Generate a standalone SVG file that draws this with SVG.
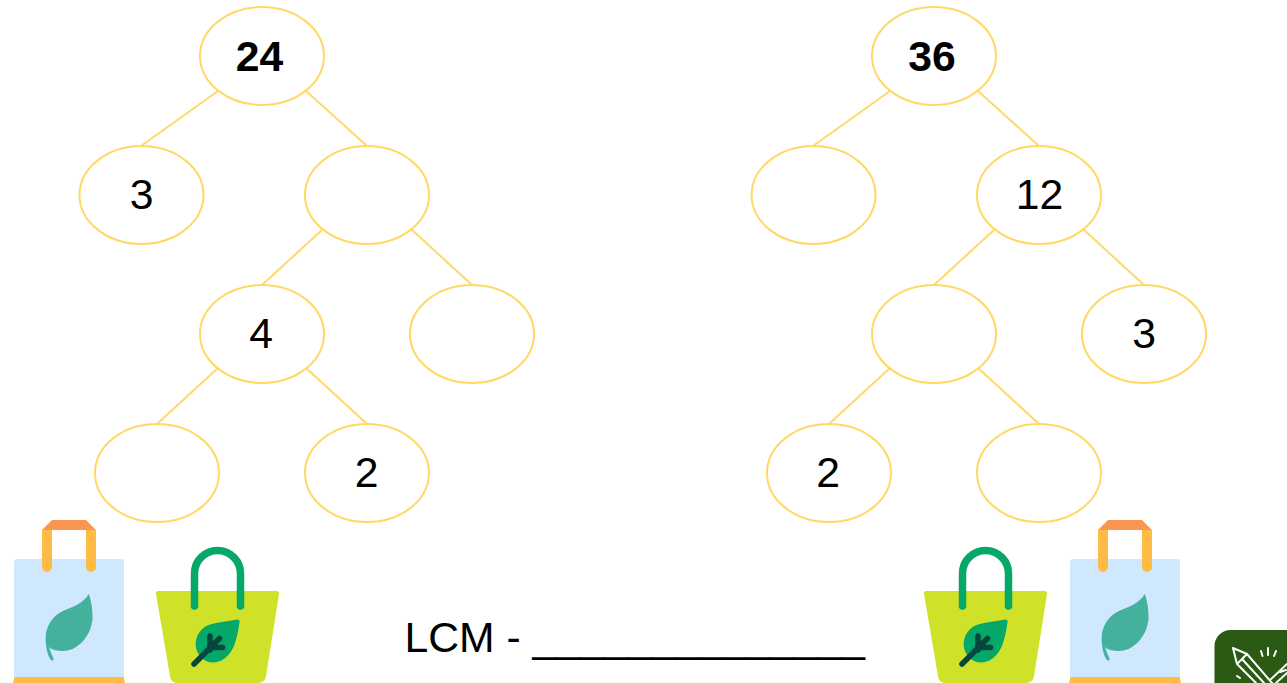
<svg xmlns="http://www.w3.org/2000/svg" xmlns:xlink="http://www.w3.org/1999/xlink" width="1287" height="683" viewBox="0 0 1287 683">
<style>
.n{fill:#fff;stroke:#ffd966;stroke-width:2}
.c{fill:none;stroke:#ffd966;stroke-width:2}
text{font-family:"Liberation Sans",Arial,sans-serif;font-size:42.7px;fill:#000}
.m{text-anchor:middle}
.b{font-weight:700}
.p{fill:none;stroke:#fff;stroke-width:2;stroke-linecap:round;stroke-linejoin:round}
</style>
<defs>
<g id="bagBlue">
<rect x="14" y="559" width="110" height="124" rx="3" fill="#cfe8fd"/>
<path d="M42 530L52 520H86L96 530Z" fill="#fb9650"/>
<path d="M42 530H52V567a5 5 0 0 1-10 0ZM86 530H96V567a5 5 0 0 1-10 0Z" fill="#ffbb46"/>
<path d="M13 683L14.500 677H123.500L125 683Z" fill="#ffbb46"/>
<path d="M88.700 594C90 596 93 608 92.500 619C91 636 78 651 63 651C58 651 52 650 49 647C50 651 52 655 53.500 658.500C54 661 51.500 661 50.500 659.500C47 654 45.500 645 45.700 637C46 625 54 615 63 611C72 607 83 604 88.700 594Z" fill="#44b19c"/>
</g>
<g id="bagGreen">
<path d="M158 591H277Q279.500 591 279 594L266 676Q265 683 258 683H177Q171 683 170 676L156 594Q155.500 591 158 591Z" fill="#cfe128"/>
<path d="M194.500 606V573.500a23 23 0 0 1 46 0V606" fill="none" stroke="#05a868" stroke-width="7.500" stroke-linecap="round"/>
<path d="M237 619.500Q240 619 239.500 622.500C238 632 236 642 233 648C228 658 220 663 212 662.500C203 662 196 654 195.700 645C195.500 636 201 627 210 624.500C218 622.500 228 621 237 619.500Z" fill="#05a868"/>
<path d="M194 664L219.500 638.500M210 636V650M222.500 647.500H211" fill="none" stroke="#04473f" stroke-width="5.500" stroke-linecap="round"/>
</g>
</defs>
<g id="connectors">
<path class="c" d="M218 91L141 146M306 91L367 146M323 229L262 285M411 229L472 285M218 368L157 424M306 368L367 424"/>
<path class="c" d="M890 91L813 146M978 91L1039 146M995 229L934 285M1083 229L1144 285M890 368L829 424M978 368L1039 424"/>
</g>
<g id="n24"><ellipse class="n" cx="262" cy="56" rx="62" ry="49"/><text class="m b" x="259.500" y="71">24</text></g>
<g id="n3a"><ellipse class="n" cx="141.500" cy="195" rx="62" ry="49"/><text class="m" x="141.500" y="209">3</text></g>
<g id="n6"><ellipse class="n" cx="367" cy="195" rx="62" ry="49"/></g>
<g id="n4"><ellipse class="n" cx="262" cy="334" rx="62" ry="49"/><text class="m" x="261" y="348">4</text></g>
<g id="n6b"><ellipse class="n" cx="472" cy="334" rx="62" ry="49"/></g>
<g id="n2blank"><ellipse class="n" cx="157" cy="473" rx="62" ry="49"/></g>
<g id="n2a"><ellipse class="n" cx="367" cy="473" rx="62" ry="49"/><text class="m" x="366.500" y="487">2</text></g>
<g id="n36"><ellipse class="n" cx="934" cy="56" rx="62" ry="49"/><text class="m b" x="932" y="71">36</text></g>
<g id="n3blank"><ellipse class="n" cx="813.500" cy="195" rx="62" ry="49"/></g>
<g id="n12"><ellipse class="n" cx="1039" cy="195" rx="62" ry="49"/><text class="m" x="1039.500" y="209">12</text></g>
<g id="n4b"><ellipse class="n" cx="934" cy="334" rx="62" ry="49"/></g>
<g id="n3b"><ellipse class="n" cx="1144" cy="334" rx="62" ry="49"/><text class="m" x="1144" y="348">3</text></g>
<g id="n2b"><ellipse class="n" cx="829" cy="473" rx="62" ry="49"/><text class="m" x="828" y="487">2</text></g>
<g id="n2c"><ellipse class="n" cx="1039" cy="473" rx="62" ry="49"/></g>
<use xlink:href="#bagBlue" href="#bagBlue"/>
<use xlink:href="#bagGreen" href="#bagGreen"/>
<use xlink:href="#bagGreen" href="#bagGreen" transform="translate(768 0)"/>
<use xlink:href="#bagBlue" href="#bagBlue" transform="translate(1056 0)"/>
<text id="lcm" x="404.500" y="652">LCM - ______________</text>
<g id="badge">
<rect x="1214.500" y="630" width="90" height="90" rx="16" fill="#2a5a13"/>
<path class="p" d="M1233 648L1247 654L1237 664ZM1247 654L1272 683M1237 664L1256 683M1242 659L1264 683M1268 648V655M1261 651L1262.500 656M1276 651L1274 656M1270 680L1287 664M1276 683L1287 673M1237 676L1240 678M1280 672L1286 670"/>
</g>
</svg>
